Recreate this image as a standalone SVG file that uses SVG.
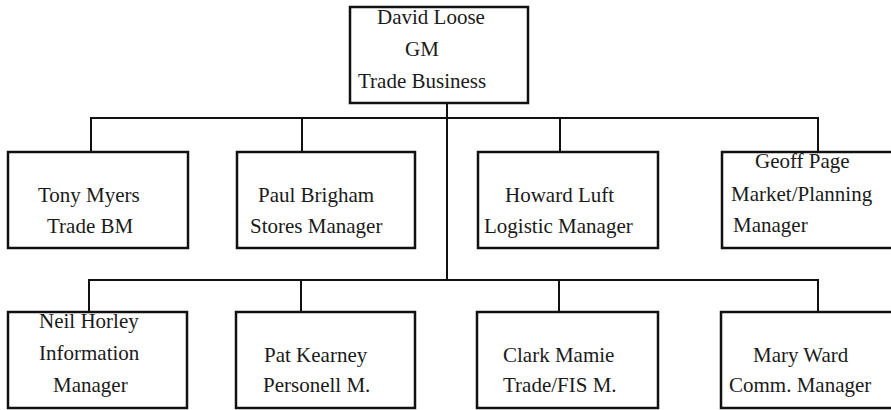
<svg xmlns="http://www.w3.org/2000/svg" width="891" height="410" viewBox="0 0 891 410">
<style>
.box{fill:#fff;stroke:#111;stroke-width:2.5}
.ln{fill:none;stroke:#111;stroke-width:2}
.t{font-size:21px;fill:#1a1a1a}
</style>
<rect width="891" height="410" fill="#fff"/>
<g id="connectors">
<path class="ln" d="M447 103V280"/>
<path class="ln" d="M91 152V118H818V152"/>
<path class="ln" d="M302 118V152M560 118V152"/>
<path class="ln" d="M89 312V280H818V312"/>
<path class="ln" d="M301 280V312M559 280V312"/>
</g>
<g class="t" font-family="'Liberation Serif', Tinos, 'Times New Roman', 'DejaVu Serif', serif">
<g id="n-david"><rect class="box" x="350" y="7" width="178" height="96"/>
<text x="377" y="24">David Loose</text><text x="405" y="56">GM</text><text x="358" y="88">Trade Business</text></g>
<g id="n-tony"><rect class="box" x="8" y="152" width="180" height="96"/>
<text x="38" y="202">Tony Myers</text><text x="47" y="233">Trade BM</text></g>
<g id="n-paul"><rect class="box" x="237" y="152" width="178" height="96"/>
<text x="258" y="202">Paul Brigham</text><text x="250" y="233">Stores Manager</text></g>
<g id="n-howard"><rect class="box" x="478" y="152" width="180" height="96"/>
<text x="505" y="202">Howard Luft</text><text x="484" y="233">Logistic Manager</text></g>
<g id="n-geoff"><rect class="box" x="722" y="152" width="175" height="96"/>
<text x="755" y="168">Geoff Page</text><text x="731" y="201">Market/Planning</text><text x="733" y="232">Manager</text></g>
<g id="n-neil"><rect class="box" x="8" y="312" width="179" height="96"/>
<text x="39" y="328">Neil Horley</text><text x="39" y="360">Information</text><text x="53" y="392">Manager</text></g>
<g id="n-pat"><rect class="box" x="236" y="312" width="179" height="96"/>
<text x="264" y="362">Pat Kearney</text><text x="263" y="392">Personell M.</text></g>
<g id="n-clark"><rect class="box" x="477" y="312" width="181" height="96"/>
<text x="503" y="362">Clark Mamie</text><text x="503" y="392">Trade/FIS M.</text></g>
<g id="n-mary"><rect class="box" x="721" y="312" width="176" height="96"/>
<text x="753" y="362">Mary Ward</text><text x="729" y="392">Comm. Manager</text></g>
</g>
</svg>
